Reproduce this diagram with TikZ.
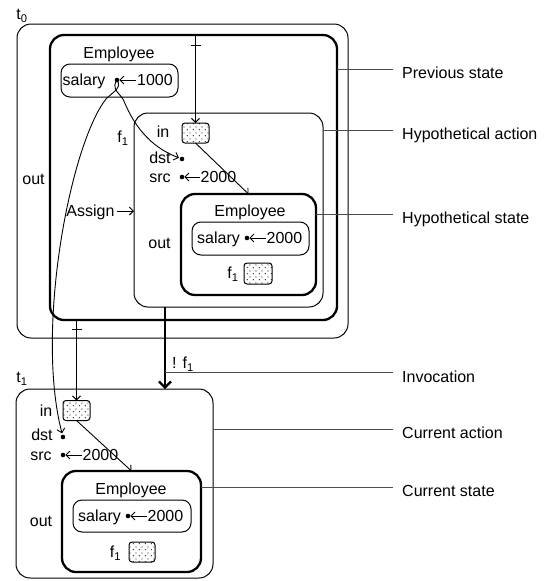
\documentclass[tikz,border=0pt]{standalone}
\usepackage{fontspec}
\setmainfont{Liberation Sans}
\usetikzlibrary{arrows.meta,patterns}
\pgfdeclarepatternformonly{mydots}{\pgfqpoint{0pt}{0pt}}{\pgfqpoint{6pt}{6pt}}{\pgfqpoint{6pt}{6pt}}{%
  \pgfpathcircle{\pgfqpoint{1.5pt}{1.5pt}}{0.8pt}%
  \pgfpathcircle{\pgfqpoint{4.5pt}{4.5pt}}{0.8pt}%
  \pgfusepath{fill}}
\begin{document}
\begin{tikzpicture}[x=1pt,y=-1pt, font=\fontsize{16}{19}\selectfont,
  frame/.style={draw, line width=1pt, rounded corners=14pt, inner sep=0pt, outer sep=0pt},
  thickframe/.style={frame, line width=2.3pt},
  slot/.style={frame, rounded corners=9pt},
  port/.style={draw, line width=1pt, rounded corners=3pt, pattern=mydots, pattern color=black!80,
    inner sep=0pt, outer sep=0pt, minimum width=27pt, minimum height=20pt},
  lbl/.style={inner sep=0pt, text height=11.5pt, text depth=0pt},
  note/.style={anchor=base west, inner sep=0pt},
  dotpt/.style={circle, fill, inner sep=0pt, outer sep=0pt, minimum size=4.6pt},
  arr/.style={-{Straight Barb[length=4pt,width=8pt]}, line width=0.9pt},
  bigarr/.style={-{Straight Barb[length=6pt,width=12pt]}, line width=2.3pt},
  callout/.style={draw=black!70, line width=1pt},
  tick/.style={line width=1pt}]
\useasboundingbox (0,0) rectangle (547,581);

% ---------- t0 ----------
\node[lbl] (t0lbl) at (22,14) {t\textsubscript{0}};
\node[frame, minimum width=331pt, minimum height=314pt] (t0) at (182.5,181) {};
\node[thickframe, minimum width=287pt, minimum height=285pt] (prev) at (193.5,177.5) {};
\node[lbl] (emp0) at (119,53) {Employee};
\node[slot, minimum width=117pt, minimum height=33pt] (sal0box) at (119.5,80.5) {};
\node[lbl] (sal0) at (84,80) {salary};
\node[dotpt] (d0) at (117,80) {};
\node[lbl] (v0) at (155,80) {1000};
\draw[arr, shorten <=1pt] (v0.west) -- (d0);
\node[lbl] (out0) at (33.5,179) {out};

% hypothetical action
\node[lbl] (f1a) at (123,137) {f\textsubscript{1}};
\node[frame, minimum width=189pt, minimum height=194pt] (hyp) at (228.5,210) {};
\node[lbl] (inA) at (163,132) {in};
\node[port] (portA) at (195.5,133) {};
\node[lbl] (dstA) at (160,158) {dst};
\node[dotpt] (ddA) at (182,159) {};
\node[lbl] (srcA) at (160,177) {src};
\node[dotpt] (dsA) at (182,177) {};
\node[lbl] (vA) at (218.5,177) {2000};
\draw[arr, shorten <=1pt] (vA.west) -- (dsA);
\node[lbl] (outA) at (159.5,243) {out};
\node[lbl] (assign) at (90.5,211) {Assign};
\draw[arr, shorten <=2pt] (assign.east) -- (assign.east -| hyp.west);

% hypothetical state
\node[thickframe, minimum width=135pt, minimum height=101pt] (hs) at (248.5,244.5) {};
\node[lbl] (empA) at (250,211) {Employee};
\node[slot, minimum width=117pt, minimum height=33pt] (salAbox) at (250.5,238.5) {};
\node[lbl] (salA) at (218.5,238) {salary};
\node[dotpt] (dA) at (247,238) {};
\node[lbl] (vA2) at (284.5,238) {2000};
\draw[arr, shorten <=1pt] (vA2.west) -- (dA);
\node[lbl] (f1b) at (233,273) {f\textsubscript{1}};
\node[port, minimum width=28pt, minimum height=21pt] (portB) at (258,273.5) {};

% ---------- t1 ----------
\node[lbl] (t1lbl) at (22,377) {t\textsubscript{1}};
\node[frame, minimum width=197pt, minimum height=189pt] (t1) at (114.5,483.5) {};
\node[lbl] (inB) at (46,411) {in};
\node[port] (portC) at (76.5,410.5) {};
\node[lbl] (dstB) at (42,435) {dst};
\node[dotpt] (ddB) at (63,437) {};
\node[lbl] (srcB) at (41,455) {src};
\node[dotpt] (dsB) at (63,455) {};
\node[lbl] (vB) at (100.5,455) {2000};
\draw[arr, shorten <=1pt] (vB.west) -- (dsB);
\node[lbl] (outB) at (41,521) {out};
\node[thickframe, minimum width=139pt, minimum height=101pt] (cs) at (131.5,521.5) {};
\node[lbl] (empB) at (131,489) {Employee};
\node[slot, minimum width=118pt, minimum height=32pt] (salBbox) at (132,516) {};
\node[lbl] (salB) at (99.5,516) {salary};
\node[dotpt] (dB) at (128,516) {};
\node[lbl] (vB2) at (165.5,516) {2000};
\draw[arr, shorten <=1pt] (vB2.west) -- (dB);
\node[lbl] (f1c) at (115.5,552) {f\textsubscript{1}};
\node[port, minimum width=26pt] (portD) at (142,552) {};

% ---------- connectors ----------
\coordinate (tA) at (portA.north |- prev.north);
\draw[arr] (tA) -- (portA.north);
\draw[tick] ([shift={(-5,10)}]tA) -- ([shift={(5,10)}]tA);
\coordinate (tB) at (portC.north |- prev.south);
\draw[arr] (tB) -- (portC.north);
\draw[tick] ([shift={(-5,9)}]tB) -- ([shift={(5,9)}]tB);

\draw[arr] (portA.south) -- (hs.north);
\draw[arr] (portC.south) -- (cs.north);

\draw[arr, shorten >=1pt] (d0.center) .. controls (112,88) and (116,90) .. (123,99)
   .. controls (128,110) and (140,143) .. (ddA);
\draw[arr, shorten >=1.5pt] (d0.center) .. controls (122,88) and (114,91) .. (106,99)
   .. controls (70,145) and (35,330) .. (ddB);

% invocation
\coordinate (ivx) at (165,372.5);
\draw[bigarr] (ivx |- hyp.south) -- (ivx |- t1.north);
\node[lbl] (bang) at (183,363) {! f\textsubscript{1}};

% ---------- callouts ----------
\coordinate (cP) at (393,69);
\coordinate (cH) at (393,130);
\coordinate (cS) at (393,214);
\coordinate (cI) at (393,372.5);
\coordinate (cA) at (393,429);
\coordinate (cC) at (393,487);
\draw[callout] (cP -| prev.east) -- (cP);
\draw[callout] (cH -| hyp.east) -- (cH);
\draw[callout] (cS -| hs.east) -- (cS);
\draw[callout] (ivx) -- (cI);
\draw[callout] (cA -| t1.east) -- (cA);
\draw[callout] (cC -| cs.east) -- (cC);
\node[note] (nP) at (402,78) {Previous state};
\node[note] (nH) at (402,139) {Hypothetical action};
\node[note] (nS) at (402,223) {Hypothetical state};
\node[note] (nI) at (402,382) {Invocation};
\node[note] (nA) at (402,438) {Current action};
\node[note] (nC) at (402,496) {Current state};
\end{tikzpicture}
\end{document}
